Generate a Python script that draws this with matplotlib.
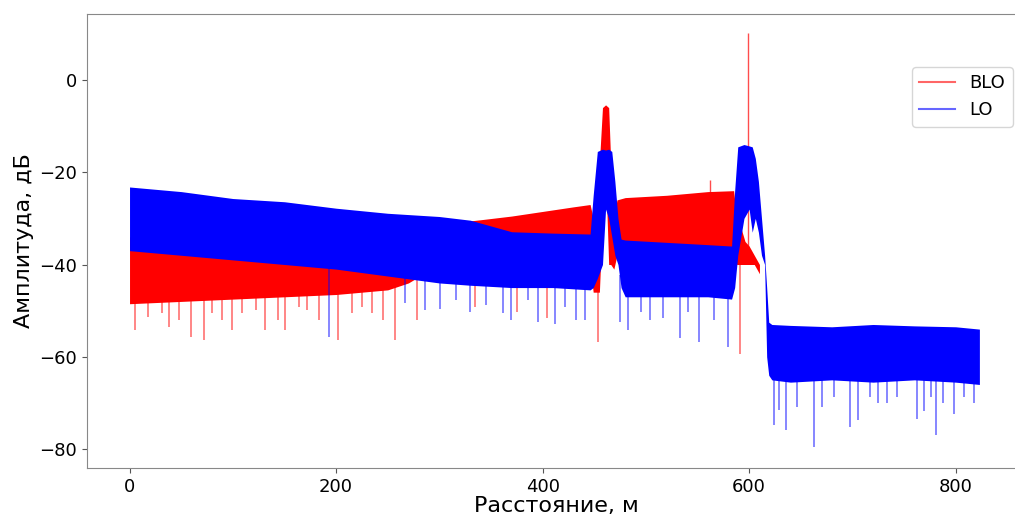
import numpy as np
import matplotlib
matplotlib.use("Agg")
import matplotlib.pyplot as plt
from matplotlib.lines import Line2D

# LO (blue): bulk envelope of the noisy trace
blue_d = [0, 50, 100, 150, 200, 250, 300, 330, 370, 410, 446, 449, 453, 458, 461,
          464, 467, 470, 473, 476, 480, 520, 560, 583, 586, 589, 595, 600, 603,
          606, 609, 612, 615, 617, 619, 622, 640, 680, 720, 760, 800, 823]
blue_upper = [-23.2, -24.2, -25.7, -26.4, -27.8, -28.9, -29.6, -30.4, -32.9, -33.2,
              -33.4, -25, -15.5, -15, -15.2, -15, -15.5, -22, -30, -34.5, -34.7,
              -35.2, -35.7, -36, -24, -14.5, -14, -14.3, -14.5, -17, -22, -30, -38,
              -45, -52.5, -53, -53.2, -53.5, -53, -53.3, -53.5, -54]
blue_lower = [-37, -38, -39, -40, -41, -42.5, -44, -44.5, -45, -45, -45.5, -45,
              -43, -40, -28, -30, -34, -38, -40, -45, -47, -47, -47, -47.5, -45,
              -38, -30, -28, -33, -30, -33, -38, -40, -60, -64, -65, -65.5, -65,
              -65.5, -65, -65.5, -66]
# downward spikes of LO
blue_spike_d = [193, 267, 286, 301, 316, 330, 345, 362, 369, 386, 396, 412, 422,
                432, 441, 475, 483, 495, 504, 517, 533, 541, 551, 566, 580, 624,
                629, 636, 646, 663, 671, 682, 698, 705, 717, 725, 734, 743, 763,
                769, 776, 781, 788, 798, 808, 818]
blue_spike_v = [-55.7, -48.4, -49.9, -49.6, -47.7, -50.3, -48.8, -50.6, -52.1,
                -47.7, -52.4, -52.8, -49.2, -52.1, -52.1, -52.4, -54.2, -50.3,
                -52.1, -51.5, -56, -50.3, -56.8, -52.1, -57.9, -74.8, -71.6, -75.9,
                -70.9, -79.5, -70.9, -68.7, -75.2, -73.8, -68.7, -70.1, -70, -68.7,
                -73.5, -71.7, -68.7, -77, -70.1, -72.4, -68.7, -70]

# BLO (red)
red_d = [0, 50, 100, 150, 200, 250, 270, 300, 320, 340, 370, 400, 430, 446, 449,
         455, 458, 461, 464, 466, 469, 472, 480, 520, 560, 585, 588, 592, 596, 600,
         605, 610]
red_upper = [-34, -35, -35, -36, -36, -37, -37, -33, -30.8, -30.3, -29.5, -28.5,
             -27.5, -27, -30, -18, -6, -5.4, -6, -18, -30, -26, -25.5, -25, -24.2,
             -24, -30, -32, -35, -36, -38, -40]
red_lower = [-48.5, -48, -47.5, -47, -46.5, -45.5, -44, -40, -38, -38, -38, -38,
             -38, -40, -46, -46, -30, -20, -40, -40, -41, -38, -38, -38, -38, -38,
             -40, -40, -40, -40, -40, -42]
red_spike_d = [5.5, 18, 31, 38, 48, 60, 72, 80, 90, 99, 109, 122, 131, 144, 151,
               164, 172, 183, 202, 215, 225, 235, 245, 257, 278, 335, 375, 404,
               454, 591]
red_spike_v = [-54.2, -51.3, -50.6, -53.5, -52.1, -55.7, -56.4, -50.6, -52.1, -54.2,
               -50.6, -49.9, -54.2, -52.1, -54.2, -49.2, -49.9, -52.1, -56.4, -50.6,
               -49.2, -50.6, -52.1, -56.4, -52.1, -49.2, -50.3, -51.7, -56.8, -59.3]
red_peak_d = [599, 562]
red_peak_v = [10.2, -21.7]

fig = plt.figure(figsize=(10.15, 5.15), dpi=100)
ax = fig.add_axes([0.0857, 0.0913, 0.925, 0.8816])

# red first, blue on top (same order as the original traces)
ax.fill_between(red_d, red_lower, red_upper, color="red", lw=0, zorder=1.0)
bot = np.interp(red_spike_d, red_d, red_lower) + 1
ax.vlines(red_spike_d, red_spike_v, bot, color="red", lw=1.1, alpha=0.6, zorder=1.1)
base = np.interp(red_peak_d, red_d, red_upper) - 1
ax.vlines(red_peak_d, base, red_peak_v, color="red", lw=1.0, alpha=0.7, zorder=1.1)

ax.fill_between(blue_d, blue_lower, blue_upper, color="blue", lw=0, zorder=1.2)
bot = np.interp(blue_spike_d, blue_d, blue_lower) + 1
ax.vlines(blue_spike_d, blue_spike_v, bot, color="blue", lw=1.1, alpha=0.6, zorder=1.3)

ax.set_xlim(-41.2, 868)
ax.set_ylim(-84.1, 14.3)
ax.set_xticks([0, 200, 400, 600, 800])
ax.set_yticks([-80, -60, -40, -20, 0])
ax.tick_params(labelsize=13, color="#555555")
for s in ax.spines.values():
    s.set_color("#888888")
ax.spines["right"].set_visible(False)

ax.set_xlabel("Расстояние, м", fontsize=16, labelpad=0)
ax.set_ylabel("Амплитуда, дБ", fontsize=16)

handles = [Line2D([], [], color="red", alpha=0.6, lw=1.5),
           Line2D([], [], color="blue", alpha=0.6, lw=1.5)]
ax.legend(handles, ["BLO", "LO"], loc="upper right", bbox_to_anchor=(0.986, 0.883),
          borderaxespad=0, fontsize=13)

fig.savefig("out.png", dpi=100)
